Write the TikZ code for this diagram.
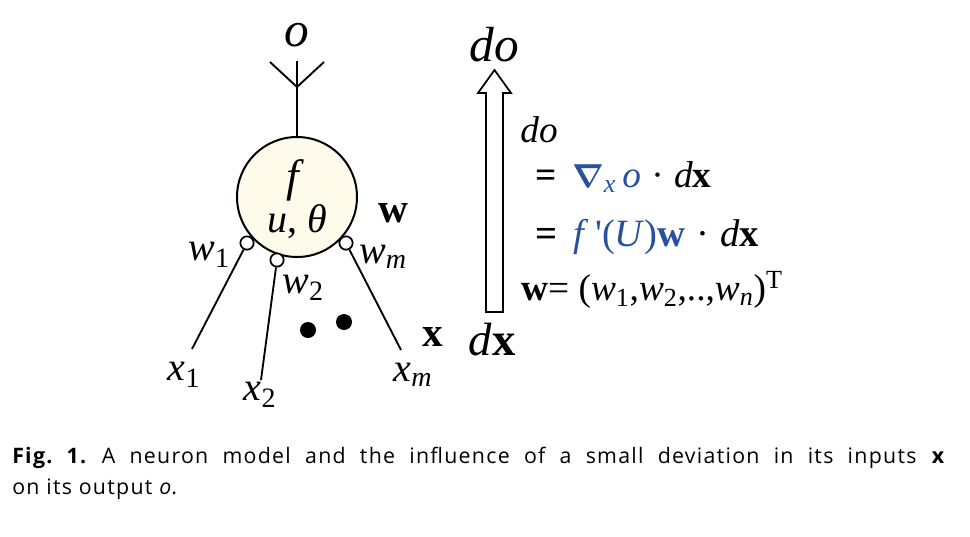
\documentclass[tikz,border=0pt]{standalone}
\usepackage{fontspec}
\usepackage{bm}
\setmainfont{Liberation Serif}
\newfontfamily\capfont[LetterSpace=6]{Open Sans}
\definecolor{cellfill}{RGB}{255,251,234}
\definecolor{eqblue}{RGB}{40,80,160}
\newcommand{\sz}[1]{\fontsize{#1}{#1}\selectfont}

\tikzset{
    lbl/.style={inner sep=0pt},
    syn/.style={circle, draw, fill=white, line width=1.3pt, minimum size=10pt, inner sep=0pt},
    wire/.style={line width=1.4pt},
}

\begin{document}
\frenchspacing
\begin{tikzpicture}[x=0.75pt,y=-0.75pt]
    \useasboundingbox (0,0) rectangle (970,536);

    % neuron body
    \node[circle, draw, fill=cellfill, line width=1.5pt, minimum size=90pt, inner sep=0pt] (neuron) at (297,197) {};
    \node[lbl] (f) at (295,180) {\sz{34}\textit{f}};
    \node[lbl] (u) at (297,222) {\sz{30}\textit{u}, \textit{θ}};

    % output
    \coordinate (fork) at (297,87);
    \coordinate (tip) at (297,61);
    \coordinate (forkl) at (270,62);
    \coordinate (forkr) at (324,62);
    \draw[wire] (neuron.north) -- (tip);
    \draw[wire] (forkl) -- (fork) -- (forkr);
    \node[lbl] (o) at (297,35) {\sz{37}\textit{o}};

    % inputs
    \coordinate (e1) at (192,349);
    \coordinate (e2) at (261,380);
    \coordinate (em) at (401,350);
    \node[syn] (s1) at (247,243) {};
    \node[syn] (s2) at (277,260) {};
    \node[syn] (sm) at (346,243) {};
    \draw[wire] (s1) -- (e1);
    \draw[wire] (s2) -- (e2);
    \draw[wire] (sm) -- (em);

    \node[lbl] (w1) at (209,255) {\sz{30}\textit{w}\textsubscript{1}};
    \node[lbl] (w2) at (303,288) {\sz{30}\textit{w}\textsubscript{2}};
    \node[lbl] (wm) at (383,257) {\sz{30}\textit{w}\textsubscript{\textit{m}}};
    \node[lbl] (x1) at (184,375) {\sz{30}\textit{x}\textsubscript{1}};
    \node[lbl] (x2) at (260,395) {\sz{30}\textit{x}\textsubscript{2}};
    \node[lbl] (xm) at (413,375) {\sz{30}\textit{x}\textsubscript{\textit{m}}};
    \node[lbl] (wvec) at (393,213) {\sz{31}\textbf{w}};
    \node[lbl] (xvec) at (433,337) {\sz{31}\textbf{x}};

    \fill (308,330) circle (8);
    \fill (344,322) circle (8);

    % deviation arrow
    \node[lbl] (dotop) at (494,45) {\sz{37}\textit{do}};
    \node[lbl] (dxbot) at (492,340) {\sz{35}\textit{d}\textbf{x}};
    \draw[line width=1.3pt, fill=white] (486,312) -- (486,93) -- (478,93) -- (494.5,70)
        -- (511,93) -- (503,93) -- (503,312) -- cycle;

    % equations
    \node[lbl] (eqdo) at (539,130) {\sz{28}\textit{do}};
    \node[lbl, anchor=west] (eqa) at (535,177) {\sz{28}\textbf{=}\,
        \textcolor{eqblue}{$\bm{\nabla}$\textsubscript{\textit{x}}\,\textit{o}}\;·\;\textit{d}\textbf{x}};
    \node[lbl, anchor=west] (eqb) at (535,237) {\sz{29}\textbf{=}\,
        \textcolor{eqblue}{\textit{f}\,\textquotesingle(\textit{U})\textbf{w}}\;·\;\textit{d}\textbf{x}};
    \node[lbl, anchor=west] (eqw) at (521,290) {\sz{28}\textbf{w}= (\textit{w}\textsubscript{1},\textit{w}\textsubscript{2},..,\textit{w}\textsubscript{\textit{n}})\textsuperscript{T}};

    % caption
    \node[anchor=north west, inner sep=0pt, text width=700pt, align=justify,
        font=\capfont\fontsize{16}{23}\selectfont] (cap) at (12,447)
        {\textbf{Fig. 1.} A neuron model and the influence of a small deviation in its inputs \textbf{x}\linebreak on its output \textit{o}.};
\end{tikzpicture}
\end{document}
